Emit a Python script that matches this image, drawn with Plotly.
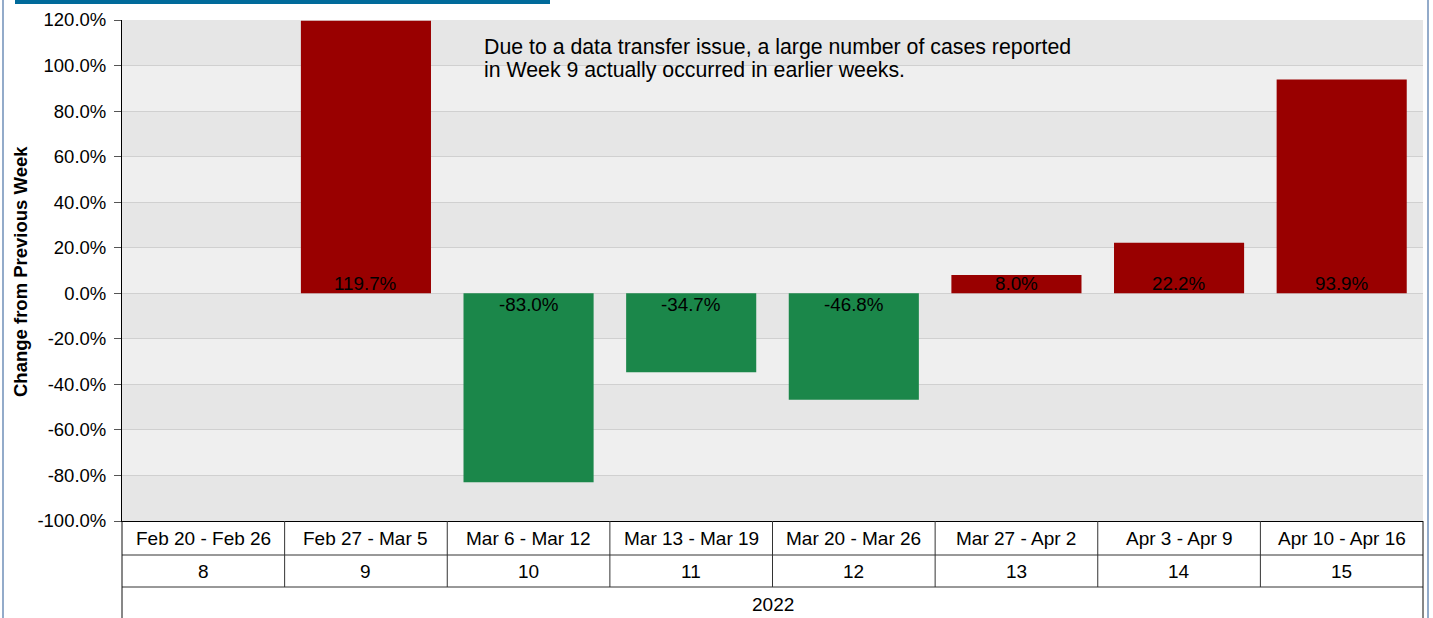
import plotly.graph_objects as go

weeks = ["8", "9", "10", "11", "12", "13", "14", "15"]
date_ranges = ["Feb 20 - Feb 26", "Feb 27 - Mar 5", "Mar 6 - Mar 12", "Mar 13 - Mar 19",
               "Mar 20 - Mar 26", "Mar 27 - Apr 2", "Apr 3 - Apr 9", "Apr 10 - Apr 16"]
year_label = "2022"
pct_change = [None, 119.7, -83.0, -34.7, -46.8, 8.0, 22.2, 93.9]
y_ticks = [-100, -80, -60, -40, -20, 0, 20, 40, 60, 80, 100, 120]
note_lines = ["Due to a data transfer issue, a large number of cases reported",
              "in Week 9 actually occurred in earlier weeks."]

RED = "#990000"
GREEN = "#1b874a"
FONT = "Arial, Liberation Sans, sans-serif"

W, H = 1433, 618
L, R, T, B = 122, 10, 20, 97
PW, PH = W - L - R, H - T - B


def py(p):  # pixel y -> paper y
    return 1 - (p - T) / PH


def px(p):  # pixel x -> paper x
    return (p - L) / PW


colors = [RED if (v is None or v >= 0) else GREEN for v in pct_change]

fig = go.Figure(go.Bar(
    x=weeks, y=pct_change, marker=dict(color=colors, line=dict(width=0)),
    hoverinfo="skip",
))

shapes = []
# alternating bands
for i in range(len(y_ticks) - 1):
    if i % 2 == 0:
        shapes.append(dict(type="rect", xref="paper", yref="y", x0=0, x1=1,
                           y0=y_ticks[i], y1=y_ticks[i + 1], fillcolor="#e6e6e6",
                           line=dict(width=0), layer="below"))

line_c = "#333333"
# category table lines
for p in [555, 587]:
    shapes.append(dict(type="line", xref="paper", yref="paper", x0=0, x1=1,
                       y0=py(p), y1=py(p), line=dict(color=line_c, width=1)))
for k in range(len(weeks) - 1):
    shapes.append(dict(type="line", xref="x", yref="paper", x0=k + 0.5, x1=k + 0.5,
                       y0=0, y1=py(587), line=dict(color=line_c, width=1)))
for xx in [0, 1]:
    shapes.append(dict(type="line", xref="paper", yref="paper", x0=xx, x1=xx,
                       y0=0, y1=py(H + 5), line=dict(color="#111111", width=1)))
# page borders
shapes.append(dict(type="rect", xref="paper", yref="paper", x0=px(15), x1=px(550),
                   y0=py(0), y1=py(4), fillcolor="#006a9a", line=dict(width=0)))
for xp in [3, 1428]:
    shapes.append(dict(type="line", xref="paper", yref="paper", x0=px(xp), x1=px(xp),
                       y0=py(-5), y1=py(H + 5), line=dict(color="#6f8fb8", width=1.5)))

annotations = []
for k, (w, d) in enumerate(zip(weeks, date_ranges)):
    annotations.append(dict(x=k, xref="x", y=py(538), yref="paper", text=d,
                            xanchor="center", yanchor="middle",
                            showarrow=False, font=dict(size=19, color="#000")))
    annotations.append(dict(x=k, xref="x", y=py(571), yref="paper", text=w,
                            xanchor="center", yanchor="middle",
                            showarrow=False, font=dict(size=19, color="#000")))
annotations.append(dict(x=0.5, xref="paper", y=py(604), yref="paper", text=year_label,
                        xanchor="center", yanchor="middle",
                        showarrow=False, font=dict(size=19, color="#000")))
for k, v in enumerate(pct_change):
    if v is None:
        continue
    annotations.append(dict(x=k, xref="x", y=0, yref="y", text=f"{v:.1f}%",
                            xanchor="center",
                            showarrow=False, yanchor="bottom" if v >= 0 else "top",
                            yshift=-3 if v >= 0 else 1,
                            font=dict(size=18.8, color="#000")))
for i, line in enumerate(note_lines):
    annotations.append(dict(x=px(482), xref="paper", y=py(47 + 23 * i), yref="paper",
                            text=line, showarrow=False, xanchor="left", yanchor="middle",
                            align="left", font=dict(size=21.3, color="#000")))
annotations.append(dict(x=px(20), xref="paper", y=py(272), yref="paper",
                        text="<b>Change from Previous Week</b>", textangle=-90,
                        xanchor="center", yanchor="middle",
                        showarrow=False, font=dict(size=18.5, color="#000")))

fig.update_layout(
    width=W, height=H, margin=dict(l=L, r=R, t=T, b=B, autoexpand=False),
    paper_bgcolor="white", plot_bgcolor="#efefef",
    font=dict(family=FONT, color="#000"),
    bargap=0.2, showlegend=False,
    shapes=shapes, annotations=annotations,
    xaxis=dict(type="category", range=[-0.5, len(weeks) - 0.5],
               showticklabels=False, showgrid=False, ticks="",
               showline=True, linecolor="#000", linewidth=1, mirror=False, zeroline=False),
    yaxis=dict(range=[y_ticks[0], y_ticks[-1]], tickvals=y_ticks,
               ticktext=[f"{t:.1f}%" for t in y_ticks],
               showgrid=True, gridcolor="#d0d0d0", gridwidth=1, zeroline=False,
               showline=True, linecolor="#000", linewidth=1,
               ticks="outside", ticklen=7, tickcolor="#555", ticklabelstandoff=4,
               tickfont=dict(size=18.5, color="#000")),
)

fig.write_html("out.html")
